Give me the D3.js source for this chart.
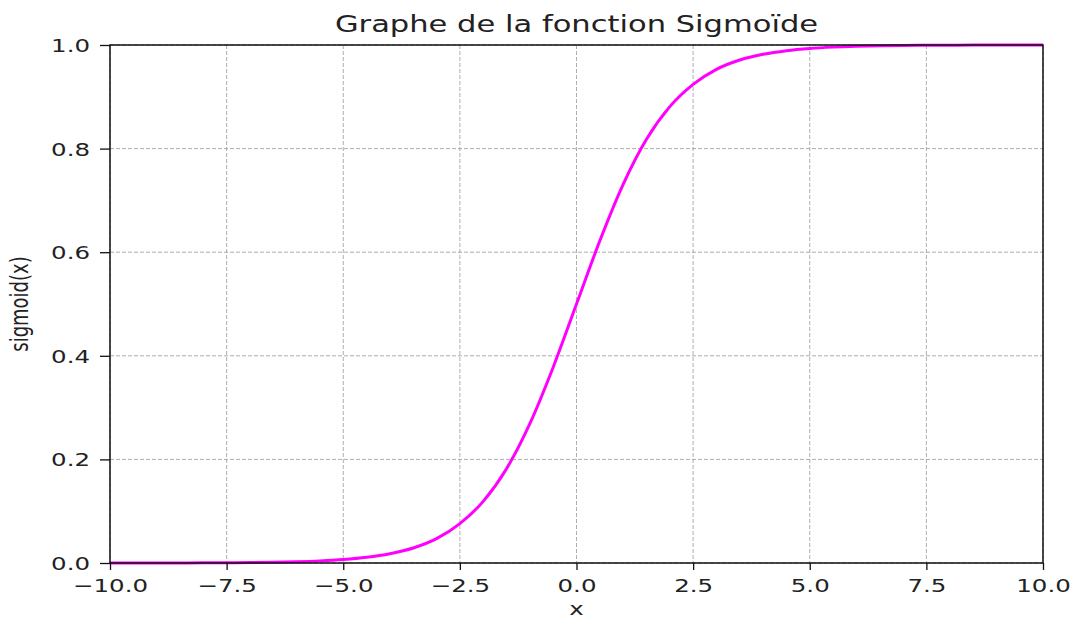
<!DOCTYPE html>
<html>
<head>
<meta charset="utf-8">
<script src="https://cdn.jsdelivr.net/npm/d3@7"></script>
<style>
  body { margin: 0; background: #fff; }
  text { font-family: "DejaVu Sans", sans-serif; fill: #222; }
</style>
</head>
<body>
<div id="chart"></div>
<script>
// values
var xValues = [-10, -9.5, -9, -8.5, -8, -7.5, -7, -6.5, -6, -5.5, -5, -4.5, -4, -3.5, -3, -2.5, -2, -1.5, -1, -0.5,
  0, 0.5, 1, 1.5, 2, 2.5, 3, 3.5, 4, 4.5, 5, 5.5, 6, 6.5, 7, 7.5, 8, 8.5, 9, 9.5, 10];
var yValues = [0.0000, 0.0001, 0.0001, 0.0002, 0.0003, 0.0006, 0.0009, 0.0015, 0.0025, 0.0041, 0.0067, 0.011, 0.018, 0.029, 0.047, 0.076, 0.119, 0.182, 0.269, 0.378,
  0.500, 0.622, 0.731, 0.818, 0.881, 0.924, 0.953, 0.971, 0.982, 0.989, 0.9933, 0.9959, 0.9975, 0.9985, 0.9991, 0.9994, 0.9997, 0.9998, 0.9999, 0.9999, 1.0000];
var xTicks = [-10, -7.5, -5, -2.5, 0, 2.5, 5, 7.5, 10];
var yTicks = [0, 0.2, 0.4, 0.6, 0.8, 1.0];

var svgWidth = 1076;
var svgHeight = 622;
var margin = { top: 45, right: 33, bottom: 59, left: 110 };
var width = svgWidth - margin.left - margin.right;
var height = svgHeight - margin.top - margin.bottom;
var sx = 1.36; // horizontal stretch of the text

var svg = d3.select("#chart").append("svg")
  .attr("width", svgWidth)
  .attr("height", svgHeight);

var chartGroup = svg.append("g")
  .attr("transform", `translate(${margin.left}, ${margin.top})`);

var xScale = d3.scaleLinear().domain([-10, 10]).range([0, width]);
var yScale = d3.scaleLinear().domain([0, 1]).range([height, 0]);

// grid
chartGroup.append("g")
  .selectAll("line")
  .data(xTicks)
  .enter()
  .append("line")
  .attr("x1", d => xScale(d)).attr("x2", d => xScale(d))
  .attr("y1", 0).attr("y2", height)
  .attr("stroke", "#999").attr("stroke-width", 0.8)
  .attr("stroke-dasharray", "4,2");

chartGroup.append("g")
  .selectAll("line")
  .data(yTicks)
  .enter()
  .append("line")
  .attr("y1", d => yScale(d)).attr("y2", d => yScale(d))
  .attr("x1", 0).attr("x2", width)
  .attr("stroke", "#999").attr("stroke-width", 0.8)
  .attr("stroke-dasharray", "4,2");

// curve
var points = xValues.map((x, i) => [x, yValues[i]]);
var line = d3.line()
  .x(d => xScale(d[0]))
  .y(d => yScale(d[1]))
  .curve(d3.curveMonotoneX);

chartGroup.append("path")
  .datum(points)
  .attr("d", line)
  .attr("fill", "none")
  .attr("stroke", "#ff00ff")
  .attr("stroke-width", 3);

// frame
chartGroup.append("rect")
  .attr("width", width).attr("height", height)
  .attr("fill", "none")
  .attr("stroke", "#111").attr("stroke-width", 1.5);

// axes
var bottomAxis = d3.axisBottom(xScale)
  .tickValues(xTicks)
  .tickFormat(d3.format(".1f"))
  .tickSizeInner(7).tickSizeOuter(0)
  .tickPadding(9);
var leftAxis = d3.axisLeft(yScale)
  .tickValues(yTicks)
  .tickFormat(d3.format(".1f"))
  .tickSizeInner(10).tickSizeOuter(0);

var xg = chartGroup.append("g")
  .attr("transform", `translate(0, ${height})`)
  .call(bottomAxis);
var yg = chartGroup.append("g").call(leftAxis);

[xg, yg].forEach(g => {
  g.select(".domain").remove();
  g.selectAll(".tick line").attr("stroke", "#111").attr("stroke-width", 1.3);
  g.selectAll("text")
    .attr("font-family", "DejaVu Sans, sans-serif")
    .attr("font-size", "18px")
    .attr("fill", "#222");
});
xg.selectAll("text").attr("transform", `scale(${sx},1)`);
yg.selectAll("text")
  .attr("x", -20 / sx)
  .attr("dy", "0.36em")
  .attr("transform", `scale(${sx},1)`);

// title and labels
svg.append("text")
  .attr("transform", `translate(${margin.left + width / 2}, 32) scale(1.3,1)`)
  .attr("text-anchor", "middle")
  .attr("font-size", "23.5px")
  .text("Graphe de la fonction Sigmoïde");

svg.append("text")
  .attr("transform", `translate(${margin.left + width / 2}, 615) scale(${sx},1)`)
  .attr("text-anchor", "middle")
  .attr("font-size", "18px")
  .text("x");

svg.append("text")
  .attr("transform", `translate(28, ${margin.top + height / 2}) scale(${sx},1) rotate(-90)`)
  .attr("text-anchor", "middle")
  .attr("font-size", "18px")
  .text("sigmoid(x)");
</script>
</body>
</html>
